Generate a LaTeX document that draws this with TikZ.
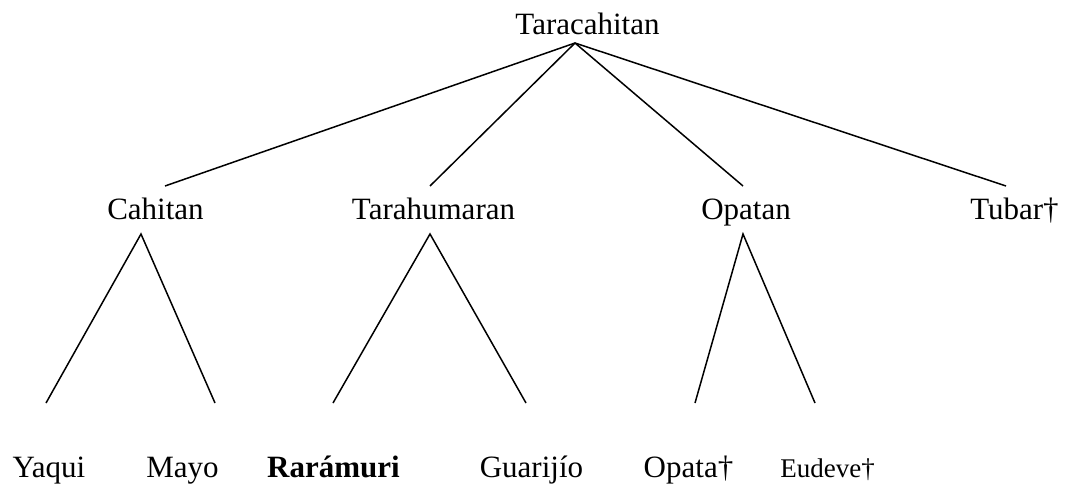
\documentclass[tikz,border=0pt]{standalone}
\usepackage{fontspec}
\setmainfont{Liberation Serif}
\usepackage{tikz}

\begin{document}
\begin{tikzpicture}[x=1pt,y=-1pt,
        lang/.style={anchor=base,inner sep=0pt,font=\fontsize{31}{36}\selectfont},
        small/.style={lang,font=\fontsize{27}{32}\selectfont},
        branch/.style={line width=1.5pt}]
    \useasboundingbox (0,0) rectangle (1065,487);
    % labels
    \node[lang] (tara) at (587.5,35) {Taracahitan};
    \node[lang] (cahitan) at (155.5,219) {Cahitan};
    \node[lang] (tarahum) at (433.5,219) {Tarahumaran};
    \node[lang] (opatan) at (746,219) {Opatan};
    \node[lang] (tubar) at (1014.5,219) {Tubar†};
    \node[lang] (yaqui) at (49,477) {Yaqui};
    \node[lang] (mayo) at (182.5,477) {Mayo};
    \node[lang] (raramuri) at (333.5,477) {\textbf{Rarámuri}};
    \node[lang] (guarijio) at (531.5,477) {Guarijío};
    \node[lang] (opata) at (688.5,477) {Opata†};
    \node[small] (eudeve) at (827.5,477) {Eudeve†};
    % joints
    \coordinate (tara-foot) at (575,43);
    \coordinate (cahitan-head) at (165,186);
    \coordinate (tarahum-head) at (430,186);
    \coordinate (opatan-head) at (743,186);
    \coordinate (tubar-head) at (1006,186);
    \coordinate (cahitan-foot) at (141,234);
    \coordinate (tarahum-foot) at (430,234);
    \coordinate (opatan-foot) at (743,234);
    \coordinate (yaqui-head) at (46,403);
    \coordinate (mayo-head) at (215,403);
    \coordinate (raramuri-head) at (333,403);
    \coordinate (guarijio-head) at (526,403);
    \coordinate (opata-head) at (695,403);
    \coordinate (eudeve-head) at (815,403);
    % branches
    \foreach \d in {cahitan,tarahum,opatan,tubar}
        \draw[branch] (tara-foot) -- (\d-head);
    \draw[branch] (yaqui-head) -- (cahitan-foot) -- (mayo-head);
    \draw[branch] (raramuri-head) -- (tarahum-foot) -- (guarijio-head);
    \draw[branch] (opata-head) -- (opatan-foot) -- (eudeve-head);
\end{tikzpicture}
\end{document}
